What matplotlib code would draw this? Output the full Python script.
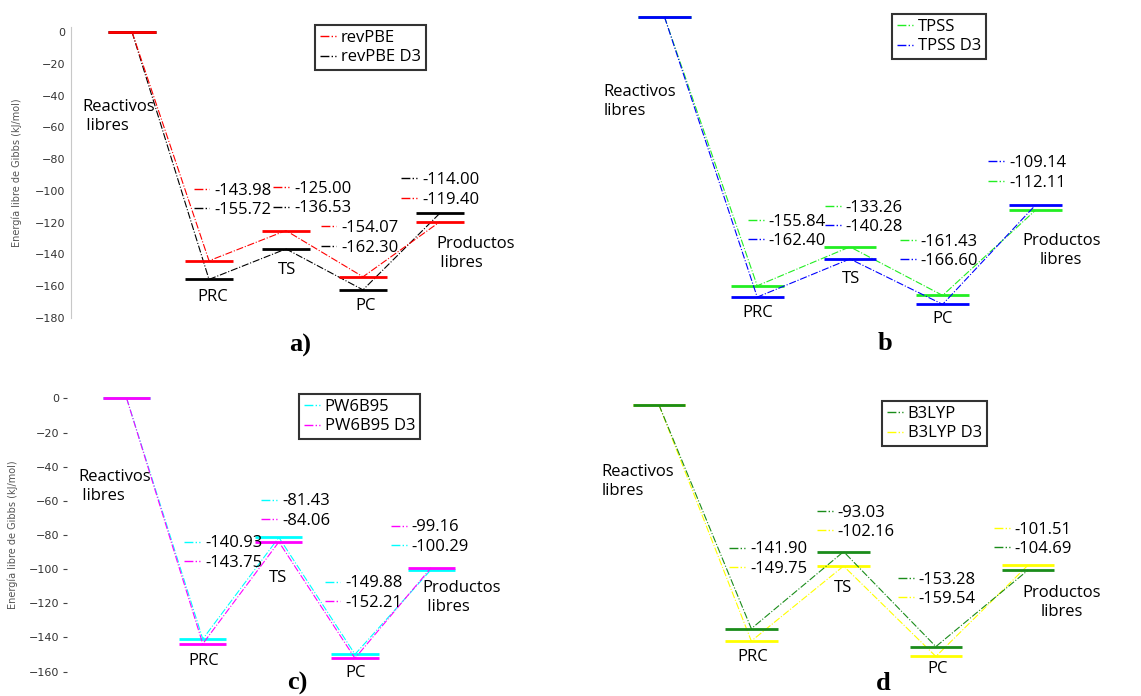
import matplotlib.pyplot as plt
from matplotlib.lines import Line2D

plt.rcParams['font.family'] = ['Open Sans', 'DejaVu Sans']

# Gibbs free energies (kJ/mol) for each stage of the reaction path
stages = ['Reactivos\nlibres', 'PRC', 'TS', 'PC', 'Productos\nlibres']

revpbe = [0.0, -143.98, -125.00, -154.07, -119.40]
revpbe_d3 = [0.0, -155.72, -136.53, -162.30, -114.00]
tpss = [0.0, -155.84, -133.26, -161.43, -112.11]
tpss_d3 = [0.0, -162.40, -140.28, -166.60, -109.14]
pw6b95 = [0.0, -140.93, -81.43, -149.88, -100.29]
pw6b95_d3 = [0.0, -143.75, -84.06, -152.21, -99.16]
b3lyp = [0.0, -141.90, -93.03, -153.28, -104.69]
b3lyp_d3 = [0.0, -149.75, -102.16, -159.54, -101.51]

panels = [
    dict(tag='a)', series=[('revPBE', revpbe, '#ff0000'), ('revPBE D3', revpbe_d3, '#000000')],
         front=0, indent=True,
         rect=[0.0624, 0.5431, 0.3772, 0.4178], ylim=(-180, 3), half=0.31, yaxis='spine',
         legend_at=(315, 25), tag_at=(300, 345),
         value_at=[(0.80, -105.9), (1.835, -105.0), (2.45, -129.6), (3.50, -99.4)],
         name_at=[(-0.65, -53.5, 'left'), (1.05, -166.8, 'center'), (2.01, -149.8, 'center'),
                  (3.04, -172.4, 'center'), (3.95, -139.1, 'left')]),
    dict(tag='b', series=[('TPSS', tpss, '#22ee22'), ('TPSS D3', tpss_d3, '#0000ff')],
         front=1, indent=False,
         rect=[0.5182, 0.5295, 0.4542, 0.4536], ylim=(-180, 3), half=0.285, yaxis=None,
         legend_at=(892, 14), tag_at=(885, 343),
         value_at=[(0.90, -124.3), (1.73, -116.2), (2.54, -135.9), (3.49, -90.4)],
         name_at=[(-0.66, -49.0, 'left'), (1.01, -171.6, 'center'), (2.01, -151.9, 'center'),
                  (3.00, -175.1, 'center'), (4.28, -135.1, 'center')]),
    dict(tag='c)', series=[('PW6B95', pw6b95, '#00ffff'), ('PW6B95 D3', pw6b95_d3, '#ff00ff')],
         front=1, indent=True,
         rect=[0.0583, 0.0277, 0.3729, 0.4073], ylim=(-163, 3), half=0.31, yaxis='ticks',
         legend_at=(299, 394), tag_at=(297, 683),
         value_at=[(0.76, -90.6), (1.77, -66.0), (2.60, -114.0), (3.47, -81.2)],
         name_at=[(-0.64, -51.9, 'left'), (1.01, -153.8, 'center'), (1.99, -105.2, 'center'),
                  (3.01, -160.8, 'center'), (3.89, -116.9, 'left')]),
    dict(tag='d', series=[('B3LYP', b3lyp, '#1a8c1a'), ('B3LYP D3', b3lyp_d3, '#ffff00')],
         front=0, indent=False,
         rect=[0.5137, 0.0218, 0.4521, 0.4030], ylim=(-175, 3), half=0.285, yaxis=None,
         legend_at=(882, 401), tag_at=(883, 683),
         value_at=[(0.76, -97.7), (1.71, -74.6), (2.59, -117.1), (3.63, -85.3)],
         name_at=[(-0.62, -48.2, 'left'), (1.02, -159.9, 'center'), (1.99, -116.1, 'center'),
                  (3.02, -167.5, 'center'), (4.36, -125.6, 'center')]),
]

W, H = 1141, 696
fig = plt.figure(figsize=(W / 100, H / 100), dpi=100)

legend_kw = dict(handlelength=0.95, handletextpad=0.3, labelspacing=0.2, fontsize=12,
                 borderaxespad=0)

for p in panels:
    ax = fig.add_axes(p['rect'])
    ax.set_xlim(-0.79, 4.8)
    ax.set_ylim(*p['ylim'])
    x = range(len(stages))

    handles = []
    for k, (name, vals, color) in enumerate(p['series']):
        z = 3 if k == p['front'] else 2
        # dash-dot connectors between stage centres
        ax.plot(x, vals, ls='-.', lw=0.8, color=color, zorder=z)
        # energy level bars
        ax.hlines(vals, [i - p['half'] for i in x], [i + p['half'] for i in x],
                  color=color, lw=2, zorder=z)
        handles.append(Line2D([], [], ls='-.', lw=1, color=color))

    # value labels next to each stage, higher energy on top
    for i, (lx, ly) in zip(range(1, len(stages)), p['value_at']):
        pairs = sorted(zip(handles, [s[1][i] for s in p['series']]), key=lambda t: -t[1])
        leg = ax.legend([h for h, _ in pairs], [f'{v:.2f}' for _, v in pairs],
                        loc='center left', bbox_to_anchor=(lx, ly),
                        bbox_transform=ax.transData, frameon=False, borderpad=0,
                        **legend_kw)
        ax.add_artist(leg)

    for label, (nx, ny, ha) in zip(stages, p['name_at']):
        if ha == 'left' and p['indent']:
            label = label.replace('\n', '\n ')
        ax.text(nx, ny, label, ha=ha, va='center', fontsize=12, linespacing=1.25,
                multialignment=ha)

    lx, ly = p['legend_at']
    leg = ax.legend(handles, [s[0] for s in p['series']], loc='upper left',
                    bbox_to_anchor=(lx / W, 1 - ly / H), bbox_transform=fig.transFigure,
                    frameon=True, fancybox=False, edgecolor='black', borderpad=0.3,
                    **legend_kw)
    leg.get_frame().set_linewidth(1.5)

    tx, ty = p['tag_at']
    fig.text(tx / W, 1 - ty / H, p['tag'], ha='center', va='center', fontsize=19,
             fontweight='bold', family='Liberation Serif')

    for s in ['top', 'right', 'bottom']:
        ax.spines[s].set_visible(False)
    ax.set_xticks([])
    if p['yaxis'] is None:
        ax.spines['left'].set_visible(False)
        ax.set_yticks([])
        continue
    ax.set_yticks(range(0, -181 if p['ylim'][0] <= -180 else -161, -20))
    if p['yaxis'] == 'spine':
        ax.spines['left'].set_color('#c8c8c8')
        ax.tick_params(axis='y', length=0, pad=4)
    else:
        ax.spines['left'].set_visible(False)
        ax.tick_params(axis='y', length=3, color='#444444', pad=2)
    ax.tick_params(axis='y', labelsize=8, labelcolor='#333333')
    for t in ax.get_yticklabels():
        t.set_family('DejaVu Sans')
    ax.set_ylabel('Energía libre de Gibbs (kJ/mol)', fontsize=7, color='#555555',
                  family='DejaVu Sans')
    ax.yaxis.set_label_coords(-0.115, 0.5)

fig.savefig('out.png', dpi=100)
